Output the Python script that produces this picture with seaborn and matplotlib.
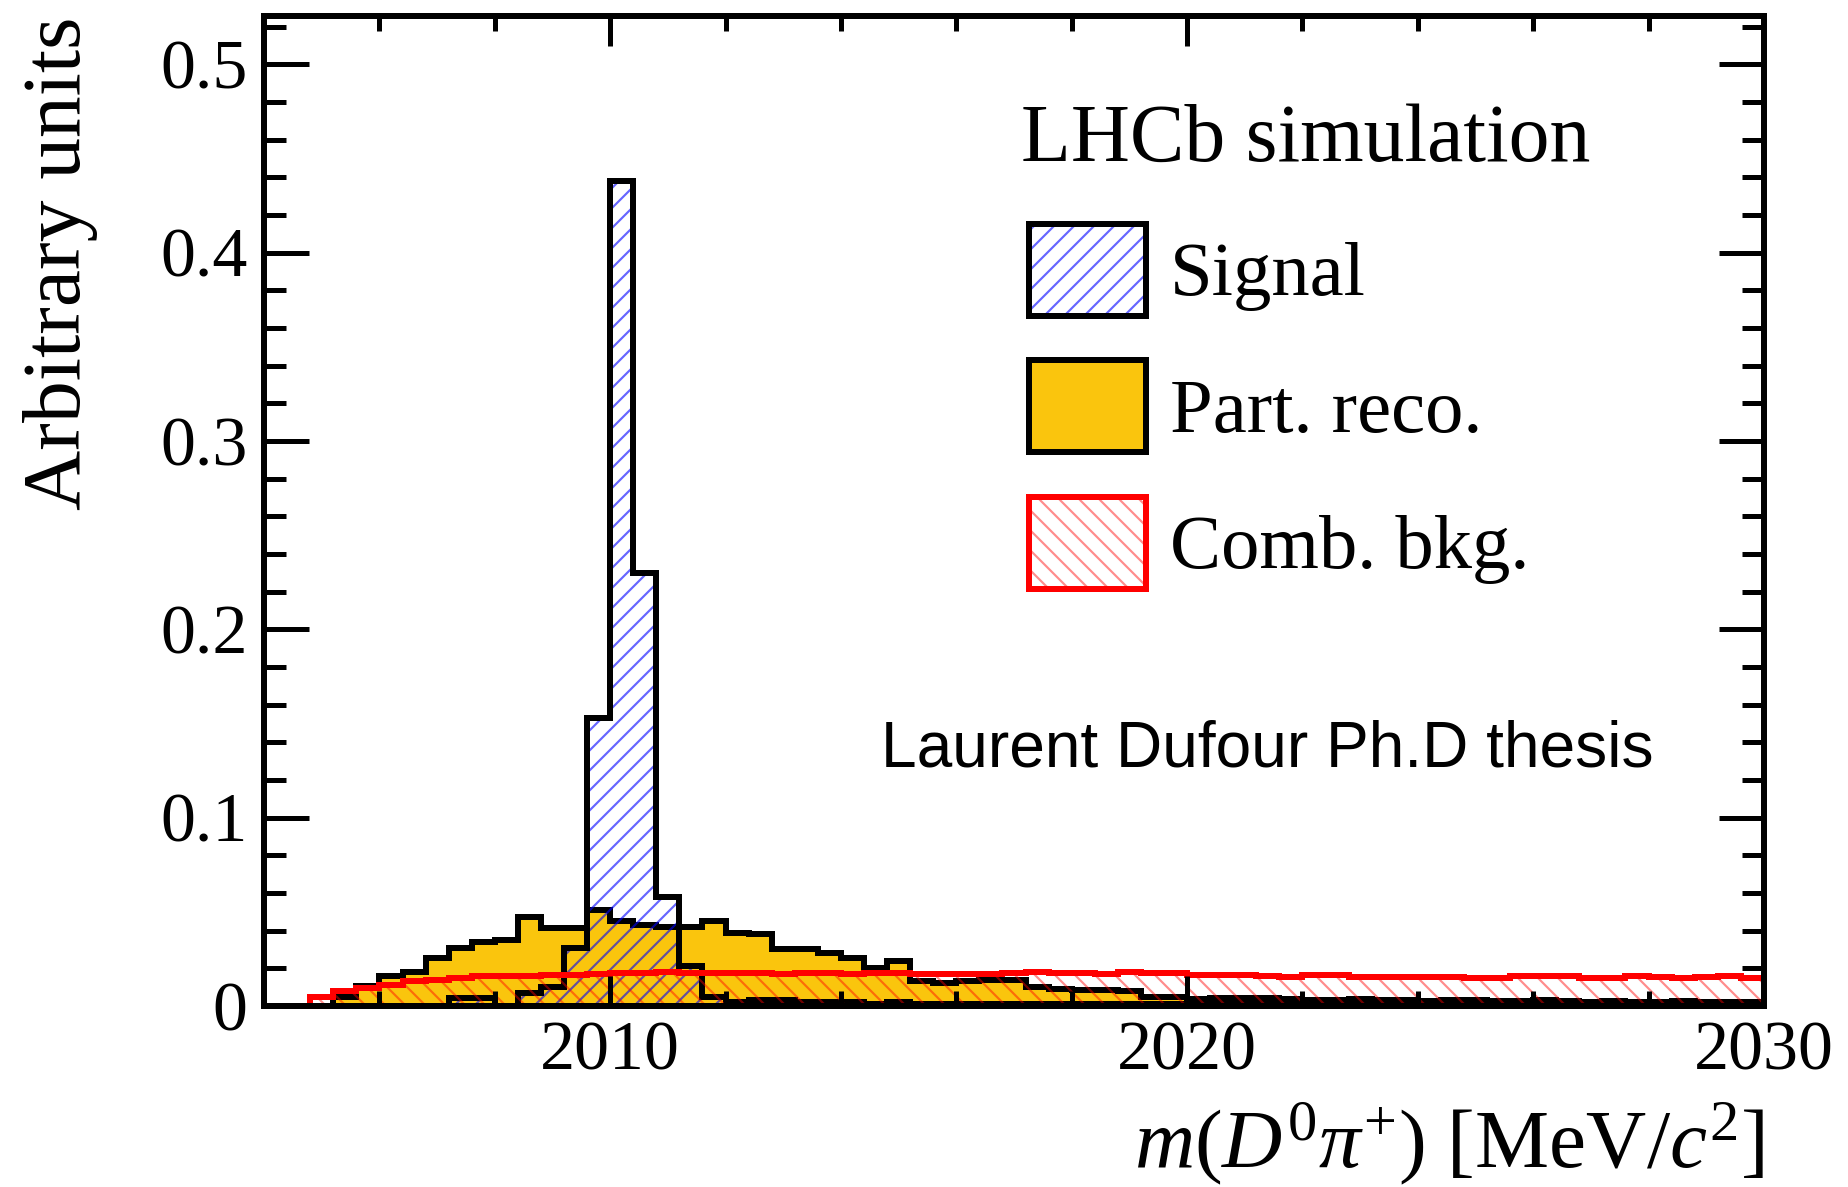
import numpy as np
import pandas as pd
import matplotlib
matplotlib.use("Agg")
import matplotlib.pyplot as plt
from matplotlib.patches import Patch
from matplotlib.ticker import MultipleLocator, FuncFormatter
import seaborn as sns

# Binning of m(D0 pi+) [MeV/c^2]: 65 bins of 0.4 MeV from 2004 to 2030
bin_edges = [round(2004.0 + 0.4 * k, 1) for k in range(66)]

# Normalised simulated distributions (arbitrary units), one value per bin
signal = [
    0, 0, 0, 0, 0, 0, 0, 0,
    0.004, 0.004, 0.000, 0.007, 0.010, 0.031, 0.153, 0.438, 0.230, 0.058,
    0.021, 0.005,
    0.002, 0.003, 0.003, 0.002, 0.002, 0.002, 0.001, 0.002, 0.001, 0.001,
    0.001, 0.001, 0.001, 0.001, 0.001, 0.001, 0.001, 0.001, 0.001, 0.001,
    0.001, 0.001, 0.001, 0.001, 0.001, 0.001, 0.001, 0.001, 0.001, 0.001,
    0.001, 0.001, 0.001, 0.001, 0.001, 0.001, 0.001, 0.001, 0.001, 0.001,
    0.001, 0.001, 0.001, 0.001, 0.001,
]
part_reco = [
    0, 0, 0, 0.005, 0.0105, 0.016, 0.018, 0.0255, 0.031, 0.034,
    0.035, 0.047, 0.0415, 0.0415, 0.051, 0.045, 0.043, 0.042, 0.042, 0.045,
    0.039, 0.038, 0.030, 0.030, 0.028, 0.0255, 0.020, 0.0237, 0.013, 0.012,
    0.013, 0.014, 0.014, 0.010, 0.009, 0.0085, 0.0085, 0.008, 0.005, 0.005,
    0.0035, 0.0045, 0.0045, 0.004, 0.0035, 0.003, 0.003, 0.0035, 0.003, 0.003,
    0.0025, 0.003, 0.003, 0.0025, 0.0025, 0.003, 0.0025, 0.002, 0.0025, 0.002,
    0.002, 0.0025, 0.002, 0.002, 0.002,
]
comb_bkg = [
    0, 0, 0.005, 0.0078, 0.0096, 0.0114, 0.0131, 0.0140, 0.0149, 0.0158,
    0.0160, 0.0160, 0.0167, 0.0167, 0.0172, 0.0176, 0.0176, 0.0178, 0.0176, 0.0175,
    0.0176, 0.0174, 0.0172, 0.0176, 0.0174, 0.0172, 0.0174, 0.0176, 0.0170, 0.0168,
    0.0172, 0.0172, 0.0174, 0.0180, 0.0174, 0.0174, 0.0170, 0.0178, 0.0174, 0.0174,
    0.0165, 0.0162, 0.0162, 0.0160, 0.0155, 0.0163, 0.0163, 0.0155, 0.0155, 0.0155,
    0.0155, 0.0155, 0.0150, 0.0150, 0.0158, 0.0158, 0.0158, 0.0150, 0.0150, 0.0160,
    0.0152, 0.0146, 0.0155, 0.0160, 0.0150,
]
legend_labels = ["Signal", "Part. reco.", "Comb. bkg."]

sns.set_theme(style="ticks")
plt.rcParams["font.family"] = ["Liberation Serif", "DejaVu Serif"]
plt.rcParams["mathtext.fontset"] = "custom"
plt.rcParams["mathtext.rm"] = "Liberation Serif"
plt.rcParams["mathtext.it"] = "Liberation Serif:italic"
plt.rcParams["hatch.linewidth"] = 1.3
for key in ["text.color", "axes.labelcolor", "xtick.color", "ytick.color",
            "xtick.labelcolor", "ytick.labelcolor", "axes.edgecolor"]:
    plt.rcParams[key] = "black"

YELLOW = "#FAC50D"
BLUE_HATCH = (0.0, 0.0, 1.0, 0.6)
RED_HATCH = (1.0, 0.0, 0.0, 0.45)
CLEAR = (1.0, 1.0, 1.0, 0.0)
LW = 3.6

edges_arr = np.array(bin_edges)
centers = 0.5 * (edges_arr[:-1] + edges_arr[1:])
df = pd.DataFrame({"m": centers, "signal": signal,
                   "part_reco": part_reco, "comb": comb_bkg})

DPI = 120
fig = plt.figure(figsize=(1848 / DPI, 1187 / DPI), dpi=DPI)
ax = fig.add_axes([0.1429, 0.1525, 0.9545 - 0.1429, 0.9865 - 0.1525])

common = dict(data=df, x="m", bins=bin_edges, element="step", stat="count", ax=ax)

# Partially reconstructed background: solid fill with black outline
sns.histplot(weights="part_reco", fill=True, color=YELLOW, facecolor=YELLOW,
             edgecolor=YELLOW, linewidth=0, zorder=1, **common)
sns.histplot(weights="part_reco", fill=False, color="black", linewidth=LW,
             solid_joinstyle="miter", zorder=2, **common)

# Signal: blue hatching with black outline
sns.histplot(weights="signal", fill=True, color="blue", facecolor=CLEAR,
             edgecolor=BLUE_HATCH, hatch="//", linewidth=0, zorder=3, **common)
sns.histplot(weights="signal", fill=False, color="black", linewidth=LW,
             solid_joinstyle="miter", zorder=4, **common)

# Combinatorial background: red hatching with red outline
sns.histplot(weights="comb", fill=True, color="red", facecolor=CLEAR,
             edgecolor=RED_HATCH, hatch="\\\\", linewidth=0, zorder=5, **common)
sns.histplot(weights="comb", fill=False, color="red", linewidth=LW,
             solid_joinstyle="miter", zorder=6, **common)

ax.set_xlim(2004, 2030)
ax.set_ylim(0, 0.5256)

# Axes frame and ticks on all four sides, pointing inwards
for sp in ax.spines.values():
    sp.set_visible(True)
    sp.set_linewidth(LW)
    sp.set_color("black")
    sp.set_zorder(10)
ax.xaxis.set_zorder(10)
ax.yaxis.set_zorder(10)

ax.xaxis.set_major_locator(MultipleLocator(10))
ax.xaxis.set_minor_locator(MultipleLocator(2))
ax.yaxis.set_major_locator(MultipleLocator(0.1))
ax.yaxis.set_minor_locator(MultipleLocator(0.02))
ax.yaxis.set_major_formatter(FuncFormatter(lambda v, p: "0" if abs(v) < 1e-9 else f"{v:.1f}"))
ax.xaxis.set_major_formatter(FuncFormatter(lambda v, p: f"{v:.0f}"))

ax.tick_params(which="both", direction="in", top=True, right=True,
               width=3.0, color="black", labelcolor="black", labelsize=42)
ax.tick_params(axis="x", which="major", length=18, pad=9)
ax.tick_params(axis="x", which="minor", length=9)
ax.tick_params(axis="y", which="major", length=27, pad=10)
ax.tick_params(axis="y", which="minor", length=13)

ax.set_xlabel(r"$m(D^{0}\pi^{+})$ [MeV/$c^{2}$]", fontsize=50, ha="right",
              color="black")
ax.xaxis.set_label_coords(1.0, -0.096)
ax.set_ylabel("Arbitrary units", fontsize=50, ha="right", color="black")
ax.yaxis.set_label_coords(-0.1107, 1.0)

ax.text(0.5047, 0.8535, "LHCb simulation", transform=ax.transAxes,
        fontsize=49, ha="left", va="baseline", color="black")
ax.text(0.411, 0.2424, "Laurent Dufour Ph.D thesis", transform=ax.transAxes,
        fontsize=38.4, ha="left", va="baseline", color="black",
        family=["Liberation Sans", "DejaVu Sans"])

handles = [
    (Patch(facecolor="white", edgecolor=BLUE_HATCH, hatch="//", linewidth=0),
     Patch(facecolor="none", edgecolor="black", linewidth=LW)),
    Patch(facecolor=YELLOW, edgecolor="black", linewidth=LW),
    (Patch(facecolor="white", edgecolor=RED_HATCH, hatch="\\\\", linewidth=0),
     Patch(facecolor="none", edgecolor="red", linewidth=LW)),
]
leg = ax.legend(handles, legend_labels, loc="upper left", bbox_to_anchor=(0.51, 0.79),
                frameon=False, fontsize=46, borderpad=0, borderaxespad=0,
                handlelength=1.53, handleheight=1.47, handletextpad=0.31,
                labelspacing=0.58)
for t in leg.get_texts():
    t.set_color("black")

fig.savefig("out.png", dpi=DPI, facecolor="white")
